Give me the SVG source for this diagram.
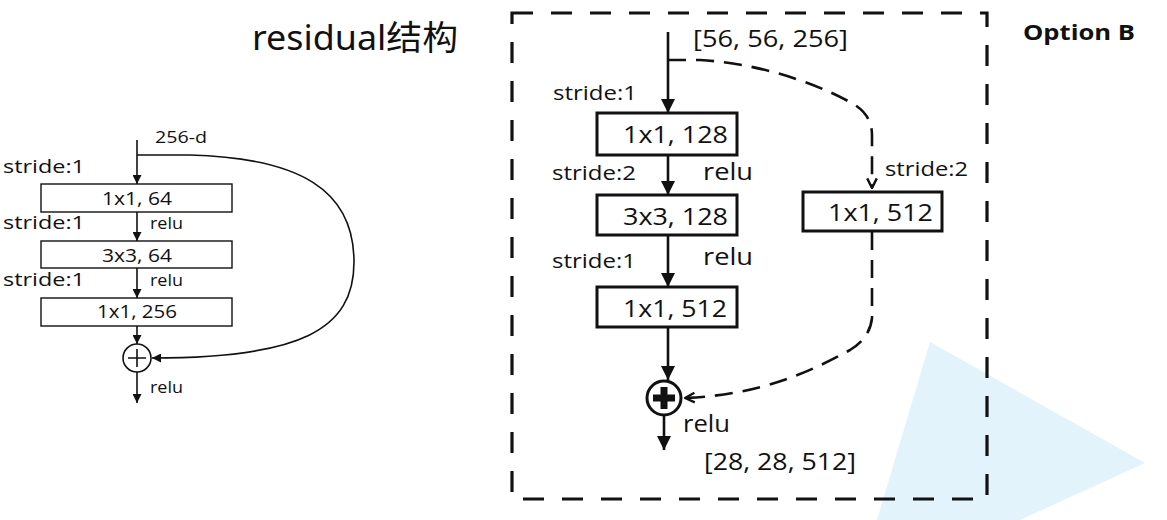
<svg xmlns="http://www.w3.org/2000/svg" width="1167" height="520" viewBox="0 0 1167 520">
<defs>
<style>
text{font-family:"Open Sans","Liberation Sans","Noto Sans CJK SC",sans-serif;fill:#111}
.thin{stroke:#111;stroke-width:1.6;fill:none}
.thick{stroke:#111;stroke-width:2.6;fill:none}
.box1{fill:#fff;stroke:#111;stroke-width:1.4}
.box2{fill:#fff;stroke:#111;stroke-width:3}
.dash{stroke:#111;stroke-width:2.6;fill:none;stroke-dasharray:18 10}
.border{stroke:#111;stroke-width:3.2;fill:none;stroke-dasharray:21 18}
</style>
<marker id="aS" viewBox="0 0 10 10" refX="10" refY="5" markerWidth="9" markerHeight="9" markerUnits="userSpaceOnUse" orient="auto"><path d="M0,0 L10,5 L0,10 z" fill="#111"/></marker>
<marker id="aL" viewBox="0 0 10 10" refX="10" refY="5" markerWidth="14" markerHeight="14" markerUnits="userSpaceOnUse" orient="auto"><path d="M0,0 L10,5 L0,10 z" fill="#111"/></marker>
<marker id="aV" viewBox="0 0 10 10" refX="9" refY="5" markerWidth="12" markerHeight="12" markerUnits="userSpaceOnUse" orient="auto"><path d="M1,1 L9,5 L1,9" fill="none" stroke="#111" stroke-width="2"/></marker>
</defs>
<rect width="1167" height="520" fill="#fff"/>
<polygon points="930,342 1145,463 1020,520 877,520" fill="#e2f3fc"/>

<text x="252" y="50" font-size="34" style="font-family:'Noto Sans','Noto Sans CJK SC',sans-serif" textLength="206" lengthAdjust="spacingAndGlyphs">residual结构</text>

<g id="left-connectors">
<line class="thin" x1="137" y1="140" x2="137" y2="184" marker-end="url(#aS)"/>
<line class="thin" x1="137" y1="212" x2="137" y2="241" marker-end="url(#aS)"/>
<line class="thin" x1="137" y1="268" x2="137" y2="298" marker-end="url(#aS)"/>
<line class="thin" x1="137" y1="326" x2="137" y2="344" marker-end="url(#aS)"/>
<line class="thin" x1="137" y1="372" x2="137" y2="403" marker-end="url(#aS)"/>
<path class="thin" d="M137,155 L190,155 C300,158 354,190 354,262 C354,330 300,358 152,358" marker-end="url(#aS)"/>
</g>
<g id="left-box1"><rect class="box1" x="41" y="184" width="191" height="28"/><text x="102" y="205" font-size="19" textLength="70" lengthAdjust="spacingAndGlyphs">1x1, 64</text></g>
<g id="left-box2"><rect class="box1" x="41" y="241" width="191" height="27"/><text x="102" y="262" font-size="19" textLength="70" lengthAdjust="spacingAndGlyphs">3x3, 64</text></g>
<g id="left-box3"><rect class="box1" x="41" y="298" width="191" height="28"/><text x="97" y="318" font-size="19" textLength="80" lengthAdjust="spacingAndGlyphs">1x1, 256</text></g>
<g id="left-add"><circle cx="137" cy="358" r="14" fill="#fff" stroke="#111" stroke-width="1.6"/><path d="M128,358 H146 M137,349 V367" stroke="#111" stroke-width="1.6"/></g>
<g id="left-labels">
<text x="155" y="143" font-size="16" textLength="52" lengthAdjust="spacingAndGlyphs">256-d</text>
<text x="3" y="173" font-size="19" textLength="82" lengthAdjust="spacingAndGlyphs">stride:1</text>
<text x="3" y="229" font-size="19" textLength="82" lengthAdjust="spacingAndGlyphs">stride:1</text>
<text x="3" y="286" font-size="19" textLength="82" lengthAdjust="spacingAndGlyphs">stride:1</text>
<text x="150" y="229" font-size="16" textLength="33" lengthAdjust="spacingAndGlyphs">relu</text>
<text x="150" y="286" font-size="16" textLength="33" lengthAdjust="spacingAndGlyphs">relu</text>
<text x="150" y="393" font-size="16" textLength="33" lengthAdjust="spacingAndGlyphs">relu</text>
</g>

<rect x="512" y="13" width="475" height="486" class="border"/>
<text x="1023" y="40" font-size="22" font-weight="bold" textLength="112" lengthAdjust="spacingAndGlyphs">Option B</text>

<g id="right-connectors">
<line class="thick" x1="668" y1="32" x2="668" y2="113" marker-end="url(#aL)"/>
<line class="thick" x1="668" y1="155" x2="668" y2="195" marker-end="url(#aL)"/>
<line class="thick" x1="668" y1="235" x2="668" y2="287" marker-end="url(#aL)"/>
<line class="thick" x1="668" y1="327" x2="668" y2="380" marker-end="url(#aL)"/>
<line class="thick" x1="664" y1="415" x2="664" y2="450" marker-end="url(#aL)"/>
<path class="dash" d="M668,60 L700,60 C770,64 830,90 855,105 Q872,116 872,135 L872,188" marker-end="url(#aV)"/>
<path class="dash" d="M872,232 L872,318 Q870,338 850,350 C810,372 760,395 685,398" marker-end="url(#aV)"/>
</g>
<g id="right-box1"><rect class="box2" x="597" y="113" width="140" height="42"/><text x="623" y="143" font-size="24" textLength="105" lengthAdjust="spacingAndGlyphs">1x1, 128</text></g>
<g id="right-box2"><rect class="box2" x="597" y="195" width="140" height="40"/><text x="623" y="225" font-size="24" textLength="105" lengthAdjust="spacingAndGlyphs">3x3, 128</text></g>
<g id="right-box3"><rect class="box2" x="597" y="287" width="140" height="40"/><text x="623" y="317" font-size="24" textLength="104" lengthAdjust="spacingAndGlyphs">1x1, 512</text></g>
<g id="right-shortcut-box"><rect class="box2" x="803" y="192" width="139" height="39"/><text x="828" y="221" font-size="24" textLength="105" lengthAdjust="spacingAndGlyphs">1x1, 512</text></g>
<g id="right-add"><circle cx="664" cy="398" r="17" fill="#fff" stroke="#111" stroke-width="3"/><path d="M653,398 H675 M664,387 V409" stroke="#111" stroke-width="7"/></g>
<g id="right-labels">
<text x="693" y="47" font-size="24" textLength="155" lengthAdjust="spacingAndGlyphs">[56, 56, 256]</text>
<text x="553" y="100" font-size="20" textLength="84" lengthAdjust="spacingAndGlyphs">stride:1</text>
<text x="552" y="180" font-size="20" textLength="84" lengthAdjust="spacingAndGlyphs">stride:2</text>
<text x="703" y="180" font-size="24" textLength="50" lengthAdjust="spacingAndGlyphs">relu</text>
<text x="552" y="268" font-size="20" textLength="84" lengthAdjust="spacingAndGlyphs">stride:1</text>
<text x="703" y="265" font-size="24" textLength="50" lengthAdjust="spacingAndGlyphs">relu</text>
<text x="885" y="176" font-size="20" textLength="83" lengthAdjust="spacingAndGlyphs">stride:2</text>
<text x="683" y="432" font-size="24" textLength="47" lengthAdjust="spacingAndGlyphs">relu</text>
<text x="704" y="470" font-size="24" textLength="152" lengthAdjust="spacingAndGlyphs">[28, 28, 512]</text>
</g>
</svg>
